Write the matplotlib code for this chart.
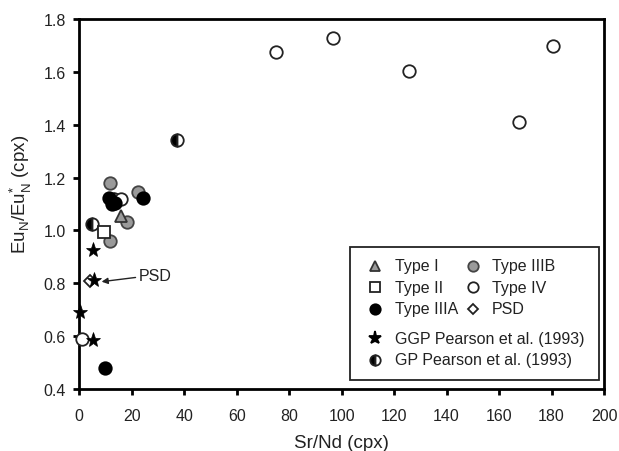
import matplotlib
matplotlib.use("Agg")
import matplotlib.pyplot as plt
from matplotlib.lines import Line2D
from matplotlib.patches import Rectangle

plt.rcParams['font.family'] = ['Liberation Sans', 'DejaVu Sans']
plt.rcParams['mathtext.fontset'] = 'custom'
plt.rcParams['mathtext.rm'] = 'Liberation Sans'

# ---- data (Sr/Nd, Eu_N/Eu*_N) ----
type1_x = [15.8]
type1_y = [1.056]
type2_x = [9.4]
type2_y = [0.993]
type3a_x = [11.4, 12.3, 13.5, 24.1, 9.8]
type3a_y = [1.121, 1.100, 1.105, 1.121, 0.478]
type3b_x = [11.7, 22.5, 18.3, 11.7]
type3b_y = [1.178, 1.146, 1.031, 0.961]
type4_x = [75.0, 96.8, 125.7, 167.6, 180.6, 15.8, 1.2]
type4_y = [1.676, 1.727, 1.603, 1.411, 1.699, 1.118, 0.590]
psd_x = [4.0]
psd_y = [0.810]
ggp_x = [5.3, 5.6, 0.3, 5.3]
ggp_y = [0.924, 0.812, 0.690, 0.585]
gp_x = [37.1, 4.7, 13.2]
gp_y = [1.342, 1.024, 1.120]

xticks = [0, 20, 40, 60, 80, 100, 120, 140, 160, 180, 200]
yticks = [0.4, 0.6, 0.8, 1.0, 1.2, 1.4, 1.6, 1.8]

fig = plt.figure(figsize=(6.19, 4.52), dpi=100)
ax = fig.add_axes([0.1281, 0.1372, 0.8477, 0.8186])

gray = '#9a9a9a'
edge = '#222222'
ms = 9.0
mew = 1.3

ax.plot(type3b_x, type3b_y, 'o', ms=ms, mfc=gray, mec='#444444', mew=mew, clip_on=False, zorder=3)
ax.plot(gp_x, gp_y, 'o', ms=ms, mfc='black', mec=edge, mew=mew, fillstyle='left',
        markerfacecoloralt='white', clip_on=False, zorder=3)
ax.plot(type4_x, type4_y, 'o', ms=ms, mfc='white', mec=edge, mew=mew, clip_on=False, zorder=3)
ax.plot(type3a_x, type3a_y, 'o', ms=ms, mfc='black', mec='black', mew=mew, clip_on=False, zorder=4)
ax.plot(type1_x, type1_y, '^', ms=ms, mfc=gray, mec='#333333', mew=mew, clip_on=False, zorder=4)
ax.plot(type2_x, type2_y, 's', ms=ms - 1, mfc='white', mec=edge, mew=mew, clip_on=False, zorder=4)
ax.plot(psd_x, psd_y, 'D', ms=ms - 2.5, mfc='white', mec=edge, mew=mew, clip_on=False, zorder=4)
ax.plot(ggp_x, ggp_y, '*', ms=ms + 2, mfc='black', mec='black', mew=0.5, clip_on=False, zorder=5)

ax.annotate('PSD', xy=(8.5, 0.806), xytext=(22.5, 0.831), fontsize=11.5, color='#222222',
            va='center', ha='left',
            arrowprops=dict(arrowstyle='-|>', color='#222222', lw=1.0, mutation_scale=9,
                            shrinkA=0, shrinkB=0))

ax.set_xlim(0, 200)
ax.set_ylim(0.4, 1.8)
ax.set_xticks(xticks)
ax.set_yticks(yticks)
ax.set_xticklabels([str(t) for t in xticks])
ax.set_yticklabels(['%.1f' % t for t in yticks])
for s in ax.spines.values():
    s.set_linewidth(2.0)
    s.set_color('black')
ax.tick_params(direction='out', length=4.5, width=2, labelsize=11.5, labelcolor='#222222')
ax.tick_params(axis='x', pad=9)
ax.tick_params(axis='y', pad=5)

ax.set_xlabel('Sr/Nd (cpx)', fontsize=13.5, color='#222222', labelpad=8)
ax.set_ylabel(r'Eu$_\mathregular{N}$/Eu$^{*}_\mathregular{N}$ (cpx)', fontsize=13.5,
              color='#222222')
ax.yaxis.set_label_coords(-0.086, 0.53)

# ---- legend (drawn manually) ----
T = ax.transAxes
ax.add_patch(Rectangle((0.5161, 0.0243), 0.4734, 0.3595, transform=T, fill=False,
                       ec='#222222', lw=1.3, zorder=6, clip_on=False))
lms = 7.5
c1m, c1t, c2m, c2t = 0.5634, 0.6016, 0.751, 0.786
rows = [0.3332, 0.2749, 0.2162, 0.137, 0.0784]
entries = [
    (c1m, c1t, rows[0], 'Type I', dict(marker='^', mfc=gray, mec='#333333')),
    (c1m, c1t, rows[1], 'Type II', dict(marker='s', mfc='white', mec=edge)),
    (c1m, c1t, rows[2], 'Type IIIA', dict(marker='o', mfc='black', mec='black')),
    (c2m, c2t, rows[0], 'Type IIIB', dict(marker='o', mfc=gray, mec='#444444')),
    (c2m, c2t, rows[1], 'Type IV', dict(marker='o', mfc='white', mec=edge)),
    (c2m, c2t, rows[2], 'PSD', dict(marker='D', mfc='white', mec=edge)),
    (c1m, c1t, rows[3], 'GGP Pearson et al. (1993)', dict(marker='*', mfc='black', mec='black')),
    (c1m, c1t, rows[4], 'GP Pearson et al. (1993)', dict(marker='o', mfc='black', mec=edge,
                                                         fillstyle='left', markerfacecoloralt='white')),
]
for mx, tx, ry, label, kw in entries:
    size = lms
    if kw['marker'] == 'D':
        size = lms - 2
    elif kw['marker'] == '*':
        size = lms + 2
    elif kw['marker'] == 's':
        size = lms - 1
    ax.add_line(Line2D([mx], [ry], transform=T, ms=size, mew=1.3, ls='none', zorder=7,
                       clip_on=False, **kw))
    ax.text(tx, ry, label, transform=T, fontsize=11.5, color='#222222', va='center',
            ha='left', zorder=7)

fig.savefig('out.png', dpi=100)
